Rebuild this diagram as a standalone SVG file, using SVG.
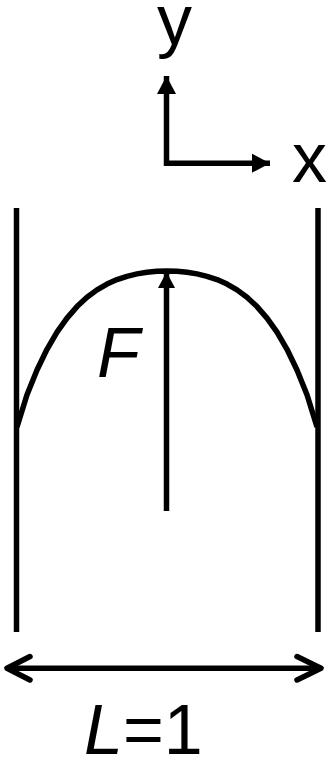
<svg xmlns="http://www.w3.org/2000/svg" width="328" height="759" viewBox="0 0 328 759">
<style>
.ln{stroke:#000;stroke-width:5.5;fill:none}
.t{font-family:"Liberation Sans",Arial,sans-serif;font-size:70px;fill:#000}
.it{font-style:italic}
</style>
<defs>
<marker id="tri" markerUnits="userSpaceOnUse" markerWidth="20" markerHeight="20" viewBox="0 0 20 20" refX="18" refY="10" orient="auto">
<path d="M0,0.5 L18,10 L0,19.5 Z" fill="#000"/>
</marker>
<marker id="triF" markerUnits="userSpaceOnUse" markerWidth="20" markerHeight="20" viewBox="0 0 20 20" refX="18" refY="10" orient="auto">
<path d="M2,1.5 L18,10 L2,18.5 Z" fill="#000"/>
</marker>
</defs>
<g id="walls">
<line class="ln" stroke-width="6" x1="16.5" y1="208" x2="16.5" y2="632"/>
<line class="ln" stroke-width="6" x1="318" y1="208" x2="318" y2="632"/>
</g>
<g id="profile">
<polyline class="ln" stroke-width="5.8" stroke-linejoin="round" points="17,427 27,394.7 37,370 47,349.3 57,332.2 67,318.1 77,306.6 87,297.3 97,289.9 107,284.1 117,279.6 127,276.3 137,273.9 147,272.2 157,271.3 167,271 177,271.3 187,272.2 197,273.9 207,276.3 217,279.6 227,284.1 237,289.9 247,297.3 257,306.6 267,318.1 277,332.2 287,349.3 297,370 307,394.7 317,427"/>
</g>
<g id="connectors">
<line class="ln" x1="166.5" y1="166" x2="166.5" y2="76" marker-end="url(#tri)"/>
<line class="ln" x1="164" y1="163.2" x2="270" y2="163.2" marker-end="url(#tri)"/>
<line class="ln" stroke-width="5" x1="166.5" y1="511" x2="166.5" y2="272" marker-end="url(#triF)"/>
<line class="ln" stroke-width="6" x1="8" y1="668.3" x2="320" y2="668.3"/>
<polyline class="ln" stroke-width="6" stroke-linecap="round" stroke-linejoin="round" points="30,656.5 7,668.3 30,680"/>
<polyline class="ln" stroke-width="6" stroke-linecap="round" stroke-linejoin="round" points="297,656.5 321,668.3 297,680"/>
</g>
<g id="labels">
<text class="t" x="157" y="44">y</text>
<text class="t" x="292" y="182">x</text>
<text class="t it" x="97" y="377">F</text>
<text class="t" font-size="67" x="84" y="754"><tspan class="it">L</tspan>=1</text>
</g>
</svg>
